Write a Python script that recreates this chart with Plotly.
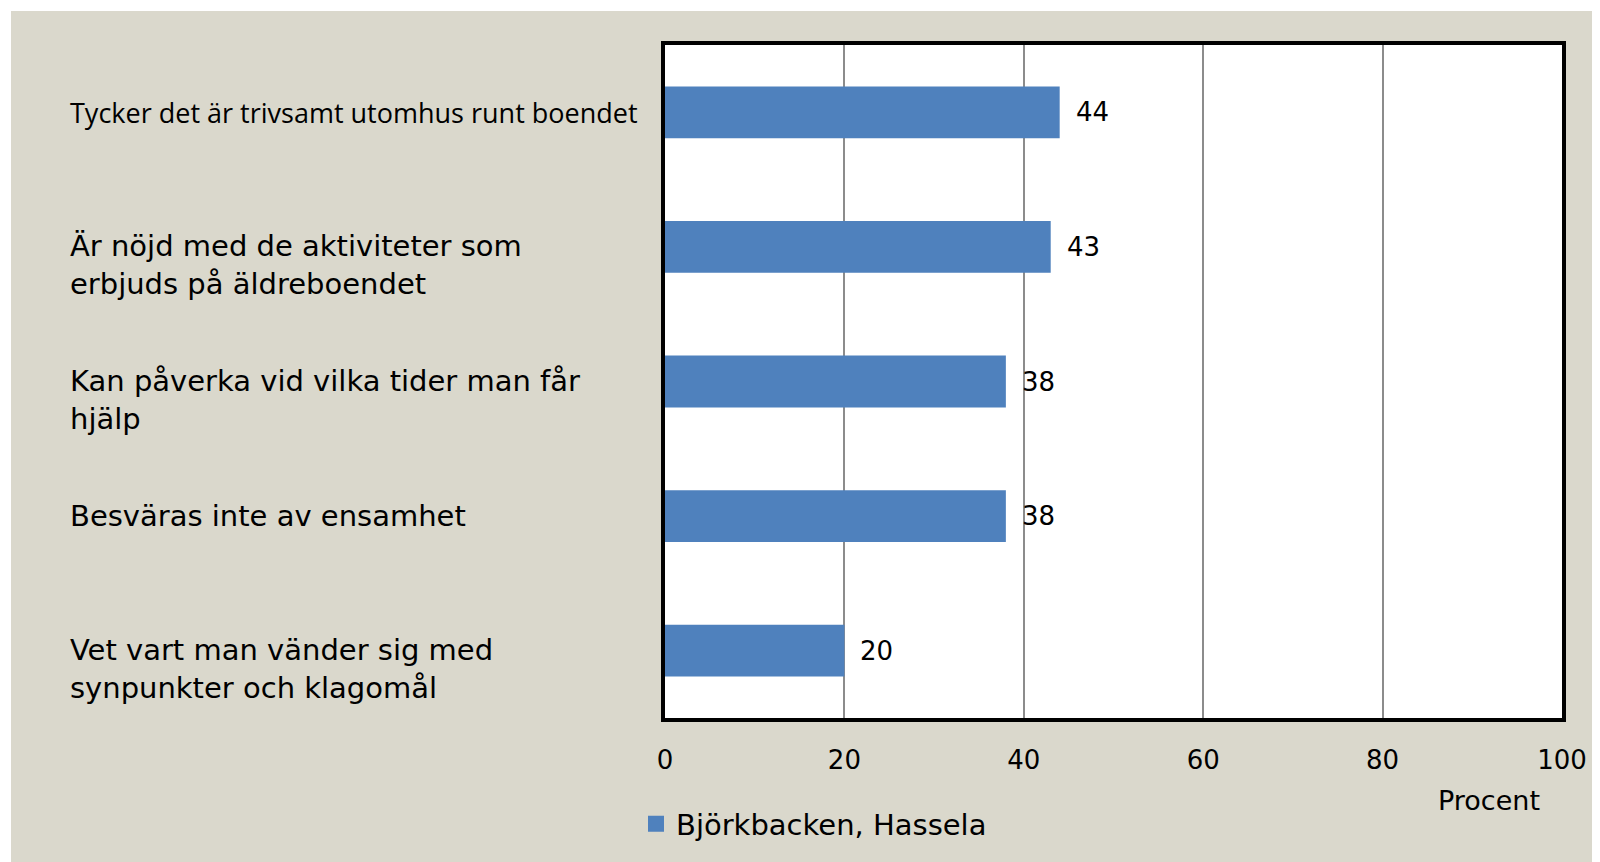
import plotly.graph_objects as go

# data
categories = [
    "Tycker det är trivsamt utomhus runt boendet",
    "Är nöjd med de aktiviteter som<br>erbjuds på äldreboendet",
    "Kan påverka vid vilka tider man får<br>hjälp",
    "Besväras inte av ensamhet",
    "Vet vart man vänder sig med<br>synpunkter och klagomål",
]
values = [44, 43, 38, 38, 20]
series_name = "Björkbacken, Hassela"
x_ticks = [0, 20, 40, 60, 80, 100]
x_title = "Procent"

BAR = "#4F81BD"
BEIGE = "#DAD8CC"
FONT = "DejaVu Sans"

# page body has an 8px margin, so the figure is a bit smaller than the window
W, H = 1592, 854
ml, mr, mt, mb = 657, 38, 37, 144
pw, ph = W - ml - mr, H - mt - mb

fig = go.Figure()
fig.add_trace(go.Bar(
    x=values, y=categories, orientation="h",
    marker=dict(color=BAR, line=dict(width=0)),
    name=series_name, showlegend=False,
))
# legend entry with a bigger square
fig.add_trace(go.Scatter(
    x=[None], y=[None], mode="markers", name=series_name,
    marker=dict(symbol="square", size=16, color=BAR),
    showlegend=True,
))

# category labels, left aligned at the left edge of the chart
for i, cat in enumerate(categories):
    nlines = cat.count("<br>") + 1
    first = i == 0
    fig.add_annotation(
        x=(60 - ml) / pw, xref="paper", y=cat, yref="y",
        text=cat, showarrow=False, xanchor="left", yanchor="middle",
        align="left",
        yshift=-(nlines - 1) * 18,
        font=dict(family="Open Sans" if first else FONT,
                  size=27 if first else 29, color="#000000"),
    )

# value labels
for cat, v in zip(categories, values):
    fig.add_annotation(
        x=v, y=cat, xref="x", yref="y", text=str(v), showarrow=False,
        xanchor="left", xshift=14,
        font=dict(family=FONT, size=26, color="#000000"),
    )

fig.add_annotation(
    x=1, xref="paper", y=-0.12, yref="paper", text=x_title, showarrow=False,
    xanchor="right", yanchor="middle", xshift=-20, yshift=-2,
    font=dict(family=FONT, size=27, color="#000000"),
)

# beige panel with thin white strip at top/left, white plot area on top
fig.add_shape(
    type="rect", xref="paper", yref="paper", layer="below",
    x0=(3 - ml) / pw, x1=(W - ml) / pw + 0.01,
    y0=-(mb + 5) / ph, y1=1 + (mt - 3) / ph,
    fillcolor=BEIGE, line=dict(width=0),
)
fig.add_shape(
    type="rect", xref="paper", yref="paper", layer="below",
    x0=0, x1=1, y0=0, y1=1,
    fillcolor="white", line=dict(width=0),
)

fig.update_layout(
    width=W, height=H,
    margin=dict(l=ml, r=mr, t=mt, b=mb),
    paper_bgcolor="white",
    plot_bgcolor="white",
    bargap=0.615,
    font=dict(family=FONT, size=27, color="#000000"),
    showlegend=True,
    legend=dict(
        orientation="h", x=(628 - ml) / pw, xanchor="left",
        y=-(816 - mt - ph) / ph, yanchor="middle",
        bgcolor="rgba(0,0,0,0)",
        font=dict(family=FONT, size=29, color="#000000"),
        itemwidth=30,
    ),
    xaxis=dict(
        range=[0, 100], tickvals=x_ticks, ticktext=[str(t) for t in x_ticks],
        showgrid=True, gridcolor="#8C8C8C", gridwidth=1.5,
        showline=True, linecolor="#000000", linewidth=4, mirror=True,
        zeroline=False, ticks="", ticklen=0, ticklabelstandoff=16,
        tickfont=dict(family=FONT, size=26),
        fixedrange=True,
    ),
    yaxis=dict(
        categoryorder="array", categoryarray=categories[::-1],
        showticklabels=False, showgrid=False,
        showline=True, linecolor="#000000", linewidth=4, mirror=True,
        zeroline=False, ticks="",
        fixedrange=True,
    ),
)

fig.write_html("out.html")
